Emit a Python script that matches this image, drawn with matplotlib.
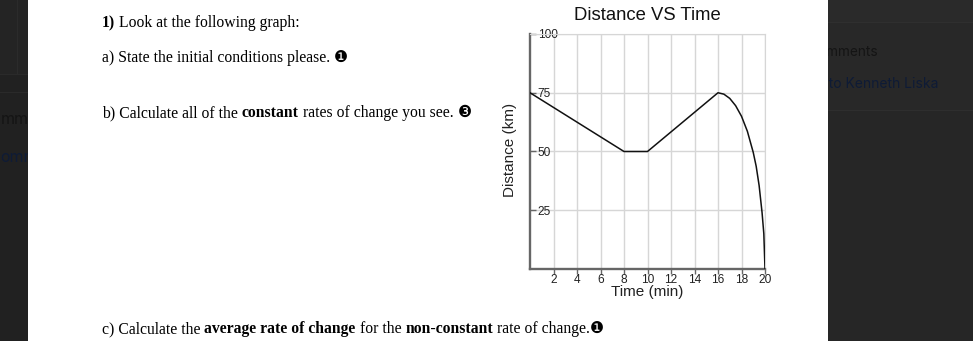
import matplotlib
matplotlib.use("Agg")
import matplotlib.pyplot as plt
from matplotlib.patches import Rectangle

# distance travelled over time
time_min = [0, 8, 10, 16, 16.5, 17, 17.5, 18, 18.5, 19, 19.25, 19.5, 19.75, 19.9, 20]
distance_km = [75, 50, 50, 75, 74.4, 72.6, 69.5, 65, 58.6, 49.6, 43.7, 35.5, 24, 15, 0]

x_ticks = [2, 4, 6, 8, 10, 12, 14, 16, 18, 20]
y_ticks = [25, 50, 75, 100]

W, H = 973, 341
SERIF = ["Liberation Serif", "DejaVu Sans"]
SANS = ["Liberation Sans", "DejaVu Sans"]


def fx(x):
    return x / W


def fy(y):
    return 1 - y / H


fig = plt.figure(figsize=(W / 100, H / 100), dpi=100)
fig.patch.set_facecolor("#262626")

# dimmed page around the worksheet
def band(x0, y0, x1, y1, color, z=-3):
    fig.patches.append(Rectangle((fx(x0), fy(y1)), fx(x1) - fx(x0), fy(y0) - fy(y1),
                                 transform=fig.transFigure, facecolor=color,
                                 edgecolor="none", zorder=z))

band(828, 0, 973, 22, "#2a2a2a")
band(828, 22, 973, 23, "#2f2f2f")
band(828, 23, 973, 110, "#282828")
band(828, 110, 973, 111, "#2e2e2e")
band(0, 0, 28, 341, "#212121")
band(0, 0, 28, 74, "#242424")
band(0, 74, 28, 75, "#2a2a2a")
band(0, 92, 28, 93, "#2a2a2a")
band(17, 0, 18, 74, "#2b2b2b")

fig.text(fx(878), fy(52), "Comments", ha="right", va="center", color="#141414",
         fontsize=9.8, family="Inter", zorder=-2)
fig.text(fx(939), fy(84), "Reply to Kenneth Liska", ha="right", va="center",
         color="#0e1b36", fontsize=10.0, family="Inter", zorder=-2)
fig.text(fx(0.5), fy(120), "mmen", ha="left", va="center", color="#141414",
         fontsize=11.5, family="Inter", zorder=-2)
fig.text(fx(0.5), fy(157), "omme", ha="left", va="center", color="#0e1b36",
         fontsize=11.5, family="Inter", zorder=-2)

band(28, 0, 828, 341, "white", z=-1)

renderer = fig.canvas.get_renderer()


def text_width(s, size, weight, family):
    t = fig.text(0, 0, s, fontsize=size, fontweight=weight, family=family)
    w = t.get_window_extent(renderer).width
    t.remove()
    return w


def put_runs(x, y, runs, size=11.3):
    space = text_width("a a", size, "normal", SERIF) - text_width("aa", size, "normal", SERIF)
    for s, weight, family in runs:
        lead = len(s) - len(s.lstrip(" "))
        trail = len(s) - len(s.rstrip(" "))
        x += lead * space
        core = s.strip(" ")
        t = fig.text(fx(x), fy(y), core, fontsize=size, fontweight=weight,
                     family=family, va="baseline", ha="left", color="black")
        x += t.get_window_extent(renderer).width + trail * space


put_runs(102, 27, [("1)", "bold", SERIF), (" Look at the following graph:", "normal", SERIF)])
put_runs(102, 62, [("a) State the initial conditions please. ", "normal", SERIF),
                   ("\u2776", "normal", SANS)])
put_runs(102, 117, [("b) Calculate all of the ", "normal", SERIF),
                    ("constant", "bold", SERIF),
                    (" rates of change you see. ", "normal", SERIF),
                    ("\u2778", "normal", SANS)])
put_runs(102, 333, [("c) Calculate the ", "normal", SERIF),
                    ("average rate of change", "bold", SERIF),
                    (" for the ", "normal", SERIF),
                    ("non-constant", "bold", SERIF),
                    (" rate of change.", "normal", SERIF),
                    ("\u2776", "normal", SANS)])

# the graph itself
ax = fig.add_axes([fx(530), fy(269), (765 - 530) / W, (269 - 34) / H])
ax.set_facecolor("white")
ax.plot(time_min, distance_km, color="#111111", lw=1.1, zorder=3)
ax.set_xlim(0, 20)
ax.set_ylim(0, 100)
ax.set_xticks(x_ticks)
ax.set_yticks(y_ticks)
ax.grid(True, color="#d6d6d6", lw=1.0)
ax.set_axisbelow(True)
for side in ["top", "right"]:
    ax.spines[side].set_color("#d6d6d6")
for side in ["left", "bottom"]:
    ax.spines[side].set_color("#666666")
    ax.spines[side].set_linewidth(1.7)

ax.tick_params(axis="x", direction="out", length=3.5, width=1, color="#666666",
               pad=0.2, labelsize=8.6, labelcolor="#222222")
ax.tick_params(axis="y", direction="in", length=4, width=1, color="#666666",
               pad=-5.5, labelsize=8.6, labelcolor="#222222")
for lab in ax.get_yticklabels():
    lab.set_horizontalalignment("left")
for lab in ax.get_xticklabels() + ax.get_yticklabels():
    lab.set_family(SANS)

fig.text(fx(647.5), fy(15), "Distance VS Time", ha="center", va="center",
         fontsize=13.3, family=SANS, color="#111111")
fig.text(fx(647.5), fy(292), "Time (min)", ha="center", va="center",
         fontsize=11, family=SANS, color="#222222")
fig.text(fx(510), fy(150), "Distance (km)", ha="center", va="center", rotation=90,
         fontsize=11, family=SANS, color="#222222")

fig.savefig("out.png", dpi=100, facecolor=fig.get_facecolor())
